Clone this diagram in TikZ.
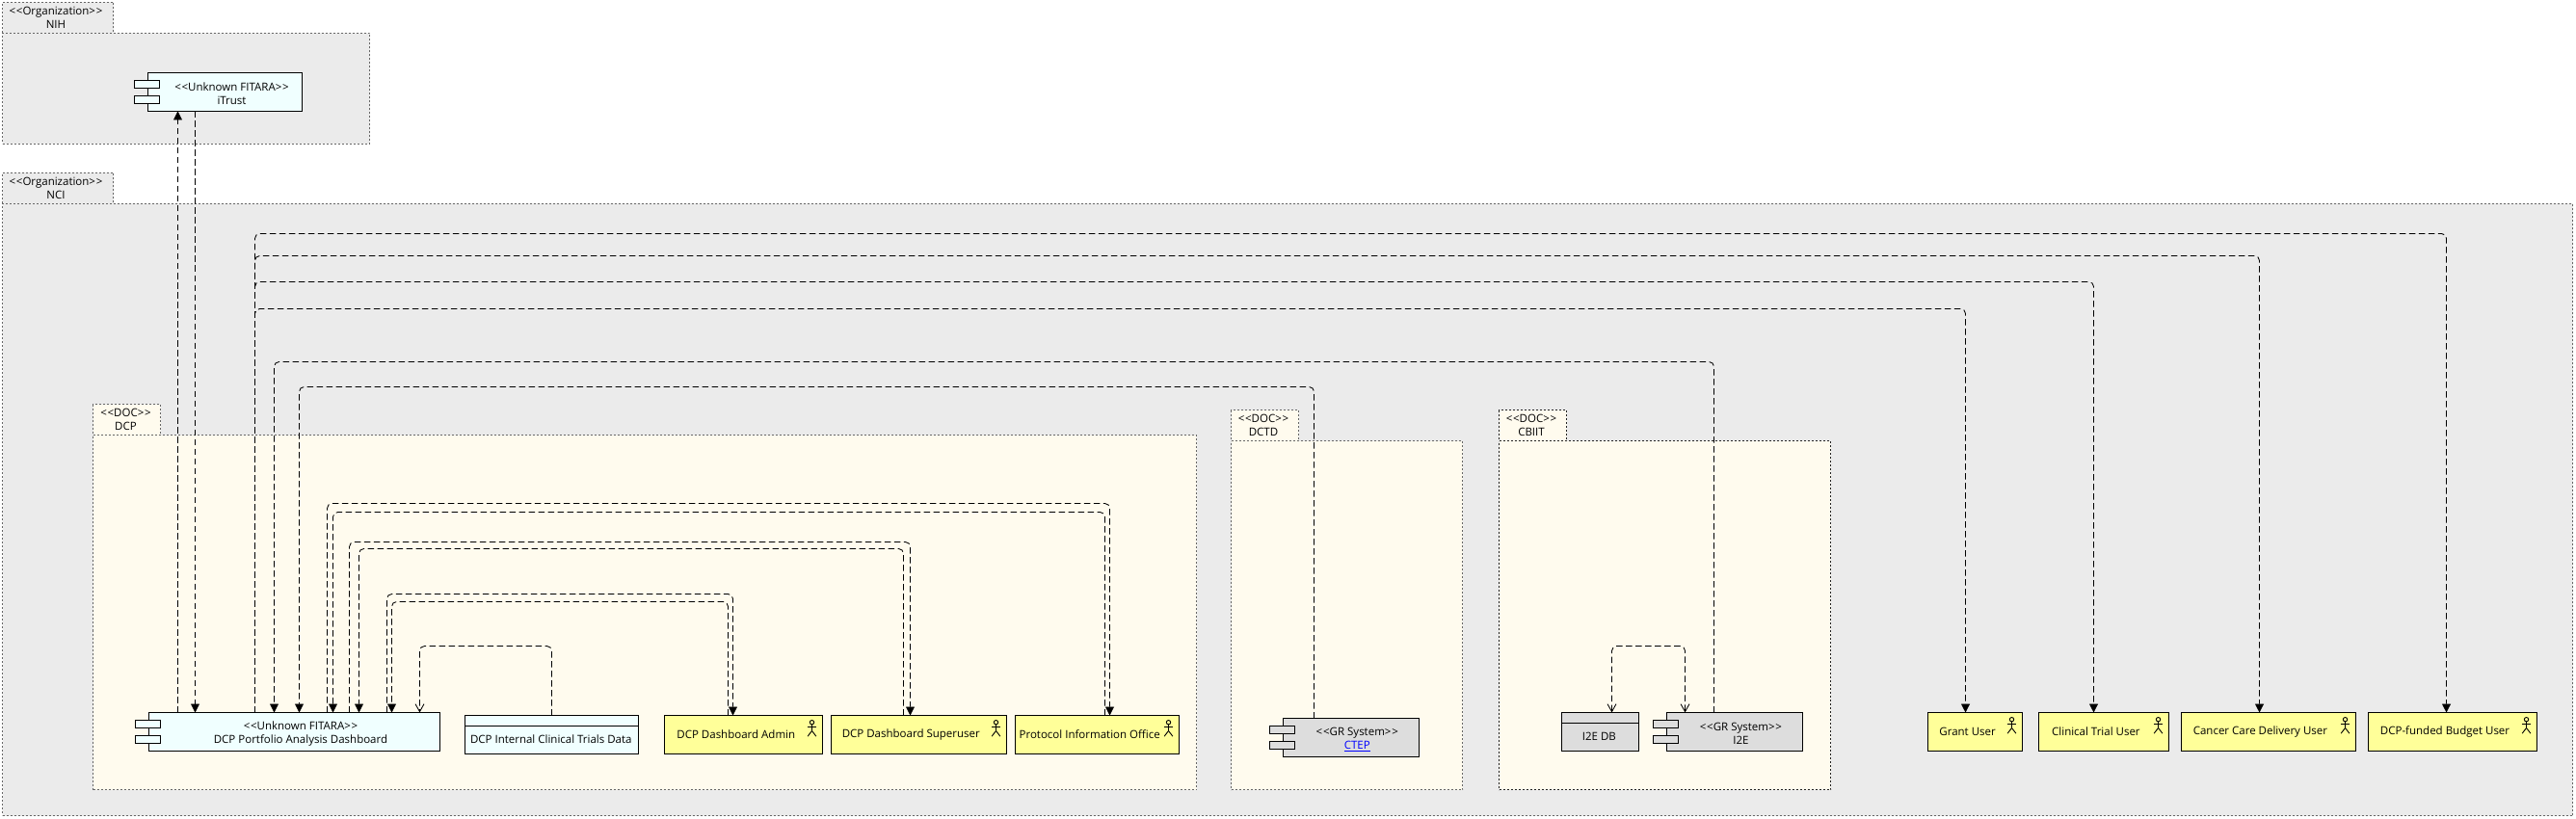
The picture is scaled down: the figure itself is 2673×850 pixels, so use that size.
\documentclass[tikz,border=0pt]{standalone}
\usepackage{fontspec}
\usetikzlibrary{arrows.meta,fit}
\newfontfamily\umlfont{Open Sans}
\definecolor{orgfill}{HTML}{EBEBEB}
\definecolor{docfill}{HTML}{FFFBEE}
\definecolor{azurefill}{HTML}{F0FFFF}
\definecolor{actorfill}{HTML}{FFFF99}
\definecolor{grfill}{HTML}{DDDDDD}
\definecolor{dotline}{HTML}{666666}
\definecolor{dotdark}{HTML}{222222}
\newcommand\stL{<\kern0.8pt<}
\newcommand\stR{>\kern0.8pt>}
\tikzset{
  uml/.style={font=\umlfont\fontsize{11.5}{14}\selectfont,inner sep=0pt,outer sep=0pt,align=center,text=black},
  pkg/.style={draw=dotline,line width=1pt,dash pattern=on 2pt off 2pt,inner sep=0pt,outer sep=0pt},
  orgpkg/.style={pkg,fill=orgfill},
  docpkg/.style={pkg,fill=docfill},
  boxed/.style={draw=black,line width=1.2pt,inner sep=0pt,outer sep=0pt},
  deps/.style={draw=black,line width=0.85pt,dash pattern=on 6.5pt off 3.5pt,rounded corners=5pt},
  solidtip/.style={deps,-{Triangle[length=9pt,width=9pt]}},
  opentip/.style={deps,-{Straight Barb[length=8pt,width=9pt]}},
  opentwo/.style={deps,{Straight Barb[length=8pt,width=9pt]}-{Straight Barb[length=8pt,width=9pt]}},
  actorline/.style={draw=black,line width=0.9pt},
}
\newcommand\compbox[8]{% name x1 y1 x2 y2 fill text cx
  \node[boxed,fill=#6,fit={(#2,#3)(#4,#5)}] (#1) {};
  \draw[boxed,fill=#6] ([shift={(-14,8)}]#1.north west) rectangle ([shift={(12,16)}]#1.north west);
  \draw[boxed,fill=#6] ([shift={(-14,24)}]#1.north west) rectangle ([shift={(12,32)}]#1.north west);
  \node[uml] (#1text) at (#8,{#3+22}) {#7};
}
\newcommand\actorbox[7]{% name x1 y1 x2 y2 text cx
  \node[boxed,fill=actorfill,fit={(#2,#3)(#4,#5)}] (#1) {};
  \node[uml] (#1text) at (#7,{#3+20}) {#6};
  \draw[actorline] ([shift={(-11,7.2)}]#1.north east) circle (2.2pt);
  \draw[actorline] ([shift={(-11,9.4)}]#1.north east) -- ([shift={(-11,16)}]#1.north east)
     -- ([shift={(-15.4,21.7)}]#1.north east);
  \draw[actorline] ([shift={(-11,16)}]#1.north east) -- ([shift={(-6.6,21.7)}]#1.north east);
  \draw[actorline] ([shift={(-15.7,11.7)}]#1.north east) -- ([shift={(-6.3,11.7)}]#1.north east);
}
\newcommand\dbbox[8]{% name x1 y1 x2 y2 fill text cx
  \node[boxed,fill=#6,fit={(#2,#3)(#4,#5)}] (#1) {};
  \draw[boxed] ([yshift=-11pt]#1.north west) -- ([yshift=-11pt]#1.north east);
  \node[uml] (#1text) at (#8,{#3+25}) {#7};
}
% routed connector: style, source, source offset, level, target, target offset
\newcommand\route[6]{%
  \coordinate (rs) at ([xshift=#3pt]#2.north west);
  \coordinate (rt) at ([xshift=#6pt]#5.north west);
  \draw[#1] (rs) -- (rs |- 0,#4) -- (rt |- 0,#4) -- (rt);
}
\begin{document}
\begin{tikzpicture}[x=1pt,y=-1pt]
\useasboundingbox (0,0) rectangle (2673,850);
% organizations
\node[orgpkg,fit={(2.5,2.5)(117.5,34.5)}] (nihtab) {};
\node[orgpkg,fit={(2.5,34.5)(383.5,149.5)}] (nih) {};
\node[uml] (nihtext) at (58,18.4) {\stL Organization\stR\\NIH};
\node[orgpkg,fit={(2.5,179.5)(117.5,211.5)}] (ncitab) {};
\node[orgpkg,fit={(2.5,211.5)(2669.5,846.5)}] (nci) {};
\node[uml] (ncitext) at (58,195.2) {\stL Organization\stR\\NCI};
% departments
\node[docpkg,fit={(96.5,419.5)(166.5,451.5)}] (dcptab) {};
\node[docpkg,fit={(96.5,451.5)(1241.5,819.5)}] (dcp) {};
\node[uml] (dcptext) at (130.5,435.4) {\stL DOC\stR\\DCP};
\node[docpkg,fit={(1277.5,425.5)(1347.5,457.5)}] (dctdtab) {};
\node[docpkg,fit={(1277.5,457.5)(1517.5,819.5)}] (dctd) {};
\node[uml] (dctdtext) at (1311,441.2) {\stL DOC\stR\\DCTD};
\node[docpkg,draw=dotdark,fit={(1555.5,425.5)(1625.5,457.5)}] (cbiittab) {};
\node[docpkg,draw=dotdark,fit={(1555.5,457.5)(1899.5,819.5)}] (cbiit) {};
\node[uml] (cbiittext) at (1589,441.2) {\stL DOC\stR\\CBIIT};
% elements
\compbox{itrust}{153.5}{75.5}{313.5}{115.5}{azurefill}{\stL Unknown FITARA\stR\\iTrust}{240.5}
\compbox{dash}{154.5}{739.5}{456.5}{779.5}{azurefill}{\stL Unknown FITARA\stR\\DCP Portfolio Analysis Dashboard}{312}
\dbbox{internal}{482.5}{742.5}{662.5}{782.5}{azurefill}{DCP Internal Clinical Trials Data}{571.8}
\actorbox{admin}{689.5}{742.5}{853.5}{782.5}{DCP Dashboard Admin}{763.8}
\actorbox{super}{862.5}{742.5}{1044.5}{782.5}{DCP Dashboard Superuser}{945.3}
\actorbox{protocol}{1053.5}{742.5}{1223.5}{782.5}{Protocol Information Office}{1130.7}
\compbox{ctep}{1331.5}{745.5}{1472.5}{785.5}{grfill}{\stL GR System\stR\\\textcolor{blue}{\underline{CTEP}}}{1408.3}
\dbbox{dbi}{1620.5}{739.5}{1700.5}{779.5}{grfill}{I2E DB}{1659.4}
\compbox{ite}{1729.5}{739.5}{1870.5}{779.5}{grfill}{\stL GR System\stR\\I2E}{1806.4}
\actorbox{grant}{2000.5}{739.5}{2098.5}{779.5}{Grant User}{2041.6}
\actorbox{clinical}{2115.5}{739.5}{2250.5}{779.5}{Clinical Trial User}{2174.9}
\actorbox{cancer}{2263.5}{739.5}{2444.5}{779.5}{Cancer Care Delivery User}{2345.4}
\actorbox{budget}{2457.5}{739.5}{2632.5}{779.5}{DCP-funded Budget User}{2537}
% connectors
\draw[solidtip] ([xshift=30pt]dash.north west) -- ([xshift=31pt]itrust.south west);
\draw[solidtip] ([xshift=49pt]itrust.south west) -- ([xshift=48pt]dash.north west);
\route{solidtip}{dash}{110}{242.5}{budget}{81}
\route{solidtip}{dash}{110}{265.5}{cancer}{81}
\route{solidtip}{dash}{110}{292.5}{clinical}{57}
\route{solidtip}{dash}{110}{320.5}{grant}{39}
\route{solidtip}{ite}{49}{375.5}{dash}{130}
\route{solidtip}{ctep}{32}{401.5}{dash}{156}
\route{solidtip}{dash}{185}{522.5}{protocol}{98}
\route{solidtip}{protocol}{93}{531.5}{dash}{191}
\route{solidtip}{dash}{208}{562.5}{super}{82}
\route{solidtip}{super}{75}{569.5}{dash}{218}
\route{solidtip}{dash}{247}{616.5}{admin}{71}
\route{solidtip}{admin}{66}{624.5}{dash}{252}
\route{opentip}{internal}{90}{670.5}{dash}{281}
\route{opentwo}{dbi}{52}{670.5}{ite}{19}
\end{tikzpicture}
\end{document}
